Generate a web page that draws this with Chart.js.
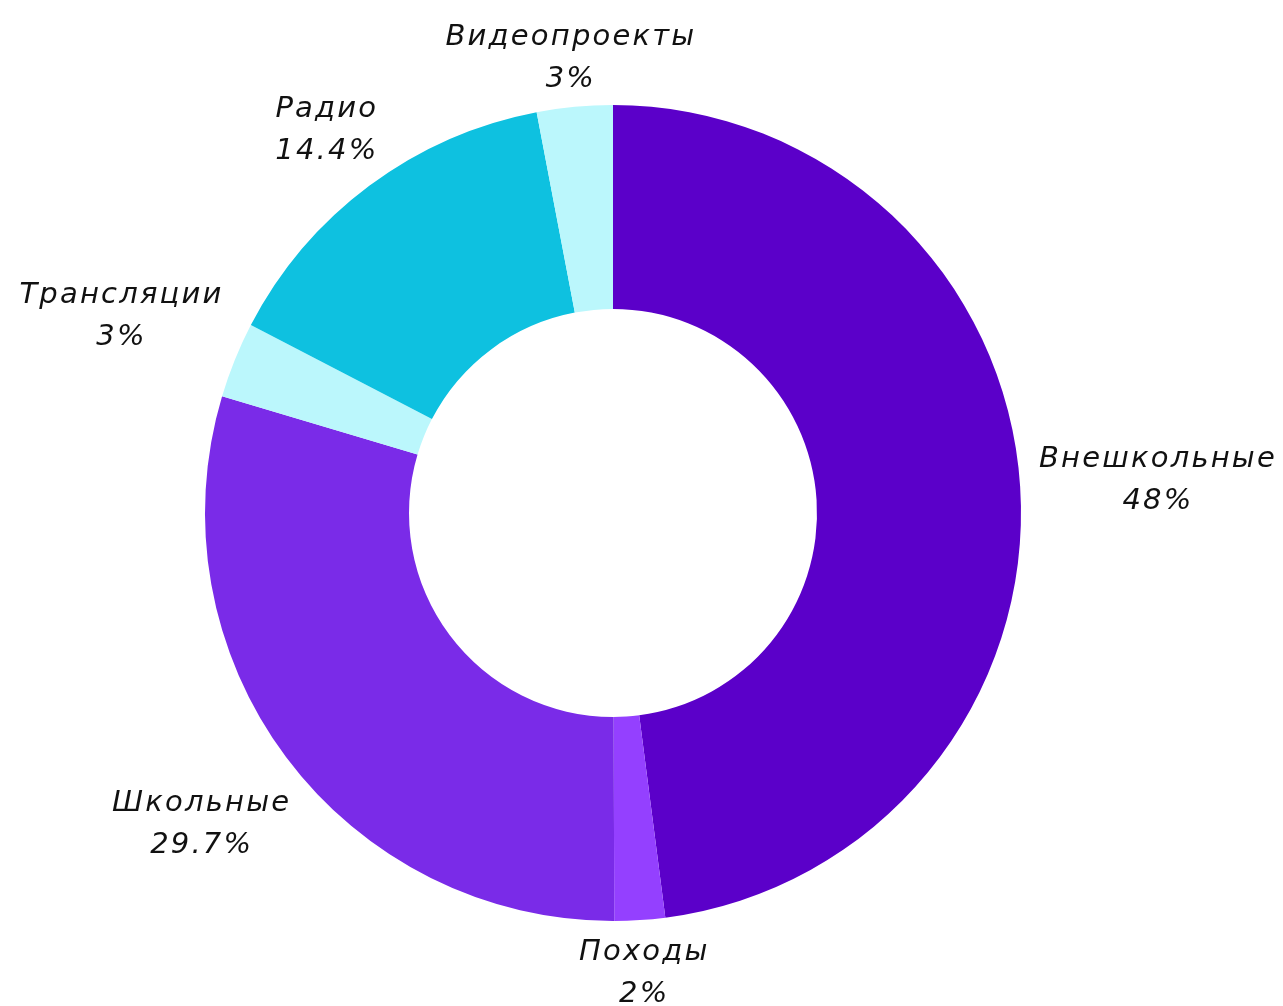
<!DOCTYPE html>
<html lang="ru">
    <head>
        <meta charset="UTF-8" />
        <title>Доля мероприятий</title>
        <script src="https://cdn.jsdelivr.net/npm/chart.js"></script>
        <style>
            html, body { margin: 0; padding: 0; background: #fff; }
            .wrap { width: 1283px; height: 1006px; }
        </style>
    </head>
    <body>
        <div class="wrap">
            <canvas id="chartDonut"></canvas>
        </div>

        <script>
            const labels = ["Внешкольные", "Походы", "Школьные", "Трансляции", "Радио", "Видеопроекты"];
            const values = [48, 2, 29.7, 3, 14.4, 3];
            const colors = ["#5B00C9", "#9440FF", "#7A2BE8", "#BBF7FC", "#0EC1E0", "#BBF7FC"];

            const labelFont = "italic 400 29px 'DejaVu Sans'";
            const spacing = 2.2;

            // labels outside the ring: box nearest point sits at a fixed gap from the arc
            const outsideLabels = {
                id: "outsideLabels",
                afterDatasetsDraw(chart) {
                    const ctx = chart.ctx;
                    const meta = chart.getDatasetMeta(0);
                    ctx.save();
                    ctx.font = labelFont;
                    ctx.letterSpacing = spacing + "px";
                    ctx.fillStyle = "#111";
                    ctx.textAlign = "center";
                    meta.data.forEach((arc, i) => {
                        const p = arc.getProps(["x", "y", "startAngle", "endAngle", "outerRadius"], true);
                        const mid = (p.startAngle + p.endAngle) / 2;
                        const c = Math.cos(mid), s = Math.sin(mid);
                        const l1 = labels[i];
                        const l2 = values[i] + "%";
                        const hw = (Math.max(ctx.measureText(l1).width, ctx.measureText(l2).width) - spacing) / 2;
                        const hh = 31.5;
                        const gap = p.outerRadius + 18;
                        let lo = gap, hi = gap + 400;
                        for (let k = 0; k < 40; k++) {
                            const t = (lo + hi) / 2;
                            const dx = Math.max(Math.abs(t * c) - hw, 0);
                            const dy = Math.max(Math.abs(t * s) - hh, 0);
                            if (Math.hypot(dx, dy) < gap) lo = t; else hi = t;
                        }
                        const cx = p.x + lo * c + spacing / 2;
                        const cy = p.y + lo * s;
                        ctx.fillText(l1, cx, cy - 10.5);
                        ctx.fillText(l2, cx, cy + 31.5);
                    });
                    ctx.restore();
                },
            };

            new Chart(document.getElementById("chartDonut"), {
                type: "doughnut",
                data: {
                    labels: labels,
                    datasets: [
                        {
                            data: values,
                            backgroundColor: colors,
                            borderWidth: 0,
                        },
                    ],
                },
                options: {
                    responsive: true,
                    maintainAspectRatio: false,
                    animation: false,
                    cutout: "50%",
                    layout: { padding: { left: 205, right: 262, top: 105, bottom: 85 } },
                    plugins: { legend: { display: false }, tooltip: { enabled: false } },
                },
                plugins: [outsideLabels],
            });
        </script>
    </body>
</html>
